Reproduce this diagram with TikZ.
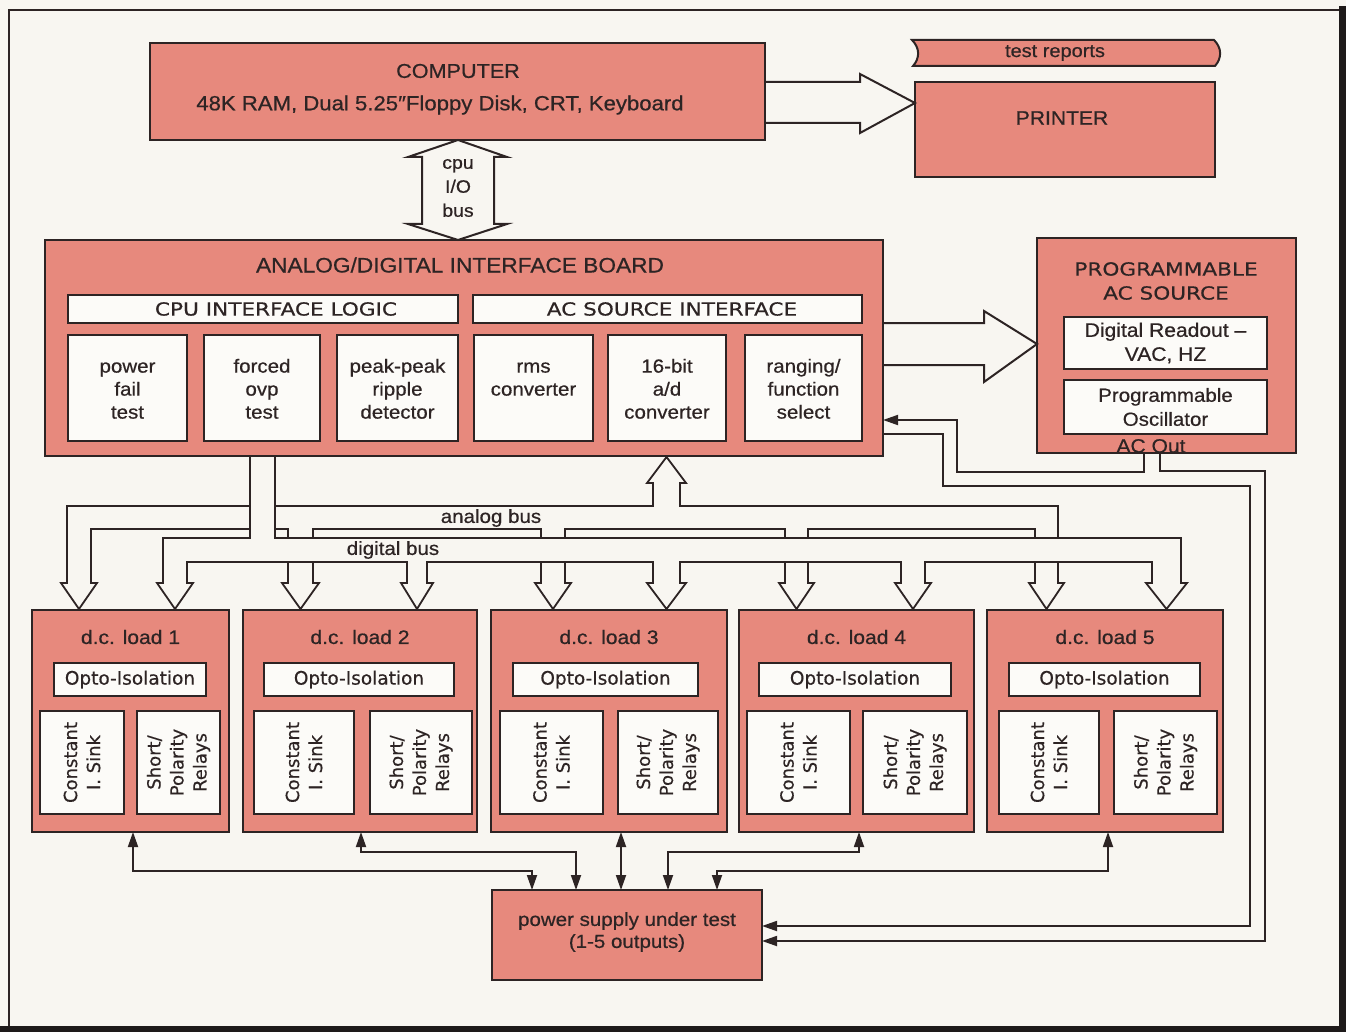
\documentclass[tikz,border=0pt]{standalone}
\usepackage{fontspec}
\setmainfont[FakeStretch=1.08,FakeBold=0.6]{Liberation Sans}
\newfontfamily\extf[FakeBold=0.5]{DejaVu Sans}
\newfontfamily\wextf[FakeStretch=1.2,FakeBold=0.5]{DejaVu Sans}
\usetikzlibrary{arrows.meta,calc}
\definecolor{bgc}{RGB}{248,246,241}
\definecolor{pk}{RGB}{231,137,125}
\definecolor{wb}{RGB}{252,251,248}
\definecolor{lc}{RGB}{45,36,36}
\definecolor{edgec}{RGB}{30,26,26}
\newcommand\fs[2]{\fontsize{#1}{#2}\selectfont}
\newcommand\bx[6]{\node[#2,minimum width={#5pt-#3pt},minimum height={#6pt-#4pt}] (#1) at (#3,#4) {};}
\begin{document}
\begin{tikzpicture}[x=1pt,y=-1pt,
  box/.style={draw=lc,line width=2.1pt,fill=pk,inner sep=0pt,outer sep=0pt,anchor=north west},
  wbox/.style={box,fill=wb},
  lbl/.style={inner sep=0pt,text=lc,align=center},
  wire/.style={draw=lc,line width=1.8pt},
  tip/.style={-{Triangle[length=15pt,width=10pt]}},
  dtip/.style={{Triangle[length=15pt,width=10pt]}-{Triangle[length=15pt,width=10pt]}},
  pipe/.style={draw=lc,line width=1.8pt,line join=miter},
  hollow/.style={draw=lc,line width=2pt,line join=miter}]
\useasboundingbox (0,0) rectangle (1346,1032);
\fill[bgc] (0,0) rectangle (1346,1032);
\draw[lc,line width=1.2pt] (9,1027) -- (9,10) -- (1339,10);
\fill[edgec] (1339,6) rectangle (1346,1032);
\fill[edgec] (0,1026) rectangle (1346,1032);

% ---------- computer, printer ----------
\bx{comp}{box}{150}{43}{765}{140}
\node[lbl,font=\fs{20}{24}] (tcomp) at (458,71) {COMPUTER};
\node[lbl,font=\fs{20.5}{24}] (tcomp2) at (440,105) {48K RAM, Dual 5.25″Floppy Disk, CRT, Keyboard};
\bx{prn}{box}{915}{82}{1215}{177}
\node[lbl,font=\fs{19.5}{24}] (tprn) at (1062,118) {PRINTER};
\draw[draw=lc,line width=2pt,fill=pk] (912,40) .. controls (920,48) and (920,58) .. (913,66) -- (1215,66)
   .. controls (1222,58) and (1222,48) .. (1214,40) -- cycle;
\node[lbl,font=\fs{18.5}{22}] (trep) at (1055,53) {test reports};

% ---------- interface board ----------
\bx{board}{box}{45}{240}{883}{456}
\node[lbl,font=\fs{21}{24}] (tboard) at (460,265) {ANALOG/DIGITAL INTERFACE BOARD};
\bx{cil}{wbox}{68}{295}{458}{323}
\bx{asi}{wbox}{473}{295}{862}{323}
\node[lbl,font=\wextf\fs{18}{22}] (tcil) at (276,309) {CPU INTERFACE LOGIC};
\node[lbl,font=\wextf\fs{18}{22}] (tasi) at (672,309) {AC SOURCE INTERFACE};
\bx{sb1}{wbox}{68}{335}{187}{441}
\bx{sb2}{wbox}{204}{335}{320}{441}
\bx{sb3}{wbox}{337}{335}{458}{441}
\bx{sb4}{wbox}{474}{335}{593}{441}
\bx{sb5}{wbox}{608}{335}{726}{441}
\bx{sb6}{wbox}{745}{335}{862}{441}
\tikzset{sbt/.style={lbl,font=\fs{19}{23}}}
\coordinate (dsb) at (0,3);
\node[sbt] (tsb1) at ($(sb1.center)+(dsb)$) {\strut power\\\strut fail\\\strut test};
\node[sbt] (tsb2) at ($(sb2.center)+(dsb)$) {\strut forced\\\strut ovp\\\strut test};
\node[sbt] (tsb3) at ($(sb3.center)+(dsb)$) {\strut peak-peak\\\strut ripple\\\strut detector};
\node[sbt] (tsb4) at ($(sb4.center)+(dsb)$) {\strut rms\\\strut converter\\\strut};
\node[sbt] (tsb5) at ($(sb5.center)+(dsb)$) {\strut 16-bit\\\strut a/d\\\strut converter};
\node[sbt] (tsb6) at ($(sb6.center)+(dsb)$) {\strut ranging/\\\strut function\\\strut select};

% ---------- AC source ----------
\bx{acs}{box}{1037}{238}{1296}{453}
\node[lbl,font=\wextf\fs{18}{24}] (tacs) at (1166,281) {PROGRAMMABLE\\AC SOURCE};
\bx{dro}{wbox}{1064}{317}{1267}{369}
\bx{osc}{wbox}{1064}{380}{1267}{434}
\node[lbl,font=\fs{19.5}{24}] (tdro) at (dro.center) {Digital Readout –\\VAC, HZ};
\node[lbl,font=\fs{19}{24}] (tosc) at (osc.center) {Programmable\\Oscillator};
\node[lbl,font=\fs{19.5}{22}] (tout) at (1151,446) {AC Out};

% ---------- loads ----------
\coordinate (yT) at (0,637);
\foreach \i/\lA/\lB/\oA/\oB/\cA/\cB/\pA/\pB in {
 1/32/229/54/206/40/124/137/220,
 2/243/477/264/454/254/354/370/472,
 3/491/727/513/698/500/603/618/718,
 4/739/974/759/951/747/850/863/967,
 5/987/1223/1009/1200/999/1099/1114/1217}{
 \bx{ld\i}{box}{\lA}{610}{\lB}{832}
 \bx{op\i}{wbox}{\oA}{663}{\oB}{696}
 \bx{cs\i}{wbox}{\cA}{711}{\cB}{814}
 \bx{sp\i}{wbox}{\pA}{711}{\pB}{814}
 \node[lbl,font=\fs{19.5}{24}] (tl\i) at (ld\i.north |- yT) {d.c. load \i};
 \node[lbl,font=\extf\fs{18.5}{22}] (to\i) at (op\i.center) {Opto-Isolation};
 \node[lbl,rotate=90,font=\extf\fs{18}{23}] (tc\i) at (cs\i.center) {Constant\\I. Sink};
 \node[lbl,rotate=90,font=\extf\fs{18}{23}] (ts\i) at (sp\i.center) {Short/\\Polarity\\Relays};
}

% ---------- power supply ----------
\bx{ps}{box}{492}{890}{762}{980}
\node[lbl,font=\fs{19}{22}] (tps) at (627,932) {power supply under test\\(1-5 outputs)};

% ---------- hollow arrows ----------
\coordinate (cio) at (458,0);
\path (comp.south -| cio) coordinate (cT) (board.north -| cio) coordinate (cB);
\draw[hollow] (cT) -- ($(cT)+(49,17)$) -- ($(cT)+(36,17)$) -- ($(cB)+(36,-16)$) -- ($(cB)+(49,-16)$) -- (cB)
  -- ($(cB)+(-50,-16)$) -- ($(cB)+(-36,-16)$) -- ($(cT)+(-36,17)$) -- ($(cT)+(-50,17)$) -- cycle;
\node[lbl,font=\fs{18}{24}] (tcpu) at (458,188) {cpu\\I/O\\bus};

\coordinate (ya1) at (0,103);
\path (comp.east |- ya1) coordinate (s1) (prn.west |- ya1) coordinate (t1);
\draw[hollow] ($(s1)+(0,-21)$) -- ($(t1)+(-55,-21)$) -- ($(t1)+(-55,-29)$) -- (t1)
  -- ($(t1)+(-55,30)$) -- ($(t1)+(-55,20)$) -- ($(s1)+(0,20)$);

\coordinate (ya2) at (0,344);
\path (board.east |- ya2) coordinate (s2) (acs.west |- ya2) coordinate (t2);
\draw[hollow] ($(s2)+(0,-21)$) -- ($(t2)+(-53,-21)$) -- ($(t2)+(-53,-33)$) -- (t2)
  -- ($(t2)+(-53,38)$) -- ($(t2)+(-53,21)$) -- ($(s2)+(0,21)$);

% ---------- digital bus ----------
\draw[pipe] (250,456) -- (250,538) -- (163,538) -- (163,583) -- (157,583) -- (175,609) -- (193,583) -- (187,583)
  -- (187,562) -- (407,562) -- (407,583) -- (401,583) -- (417,609) -- (433,583) -- (427,583)
  -- (427,562) -- (653,562) -- (653,583) -- (647,583) -- (666.5,609) -- (686,583) -- (680,583)
  -- (680,562) -- (901,562) -- (901,583) -- (895,583) -- (913,609) -- (931,583) -- (925,583)
  -- (925,562) -- (1152,562) -- (1152,583) -- (1146,583) -- (1166.5,609) -- (1187,583) -- (1181,583)
  -- (1181,538) -- (275,538) -- (275,456);
\node[lbl,font=\fs{19}{22}] (tdb) at (393,550) {digital bus};

% ---------- analog bus ----------
\draw[pipe] (250,506) -- (67,506) -- (67,583) -- (61,583) -- (79,609) -- (97,583) -- (91,583) -- (91,529) -- (250,529);
\draw[pipe] (275,506) -- (653,506) -- (653,483) -- (647,483) -- (666.5,457) -- (686,483) -- (680,483)
  -- (680,506) -- (1058,506) -- (1058,538);
\draw[pipe] (275,529) -- (288,529) -- (288,538);
\draw[pipe] (313,538) -- (313,529) -- (541,529) -- (541,538);
\draw[pipe] (565,538) -- (565,529) -- (785,529) -- (785,538);
\draw[pipe] (808,538) -- (808,529) -- (1035,529) -- (1035,538);
\foreach \u/\v in {288/313,541/565,785/808,1035/1058}{
  \draw[pipe] (\u,562) -- (\u,583) -- ({\u-6},583) -- ({(\u+\v)/2},609) -- ({\v+6},583) -- (\v,583) -- (\v,562);
}
\node[lbl,font=\fs{19}{22}] (tab) at (491,518) {analog bus};

% ---------- wires ----------
\coordinate (a1) at (1144,472); \coordinate (a2) at (957,420);
\draw[wire,tip] (acs.south -| a1) -- (a1) -| (a2) -- (board.east |- a2);
\coordinate (b1) at (943,434); \coordinate (b2) at (1250,486); \coordinate (b3) at (1250,926);
\draw[wire,tip] (board.east |- b1) -- (b1) |- (b2) -- (b3) -- (ps.east |- b3);
\coordinate (c1) at (1160,471); \coordinate (c2) at (1265,941);
\draw[wire,tip] (acs.south -| c1) -- (c1) -| (c2) -- (ps.east |- c2);

\coordinate (p1) at (133,871); \coordinate (q1) at (532,871);
\draw[wire,dtip] (ld1.south -| p1) -- (p1) -- (q1) -- (ps.north -| q1);
\coordinate (p2) at (361,852); \coordinate (q2) at (576,852);
\draw[wire,dtip] (ld2.south -| p2) -- (p2) -- (q2) -- (ps.north -| q2);
\coordinate (p3) at (621,0);
\draw[wire,dtip] (ld3.south -| p3) -- (ps.north -| p3);
\coordinate (p4) at (859,852); \coordinate (q4) at (668,852);
\draw[wire,dtip] (ld4.south -| p4) -- (p4) -- (q4) -- (ps.north -| q4);
\coordinate (p5) at (1108,871); \coordinate (q5) at (717,871);
\draw[wire,dtip] (ld5.south -| p5) -- (p5) -- (q5) -- (ps.north -| q5);
\end{tikzpicture}
\end{document}
